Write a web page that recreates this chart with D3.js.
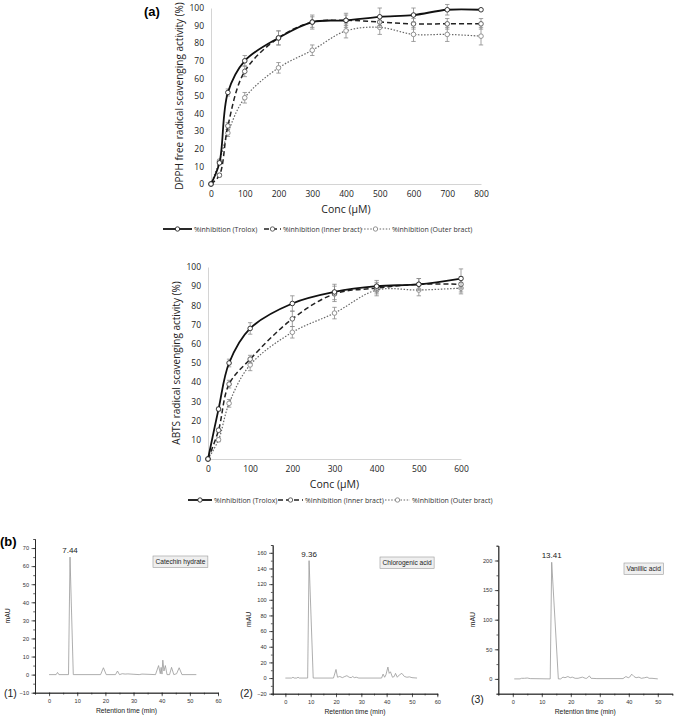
<!DOCTYPE html>
<html>
<head>
<meta charset="utf-8">
<script src="https://cdn.jsdelivr.net/npm/d3@7/dist/d3.min.js"></script>
<style>
  body { margin: 0; background: #fff; }
  svg { display: block; }
</style>
</head>
<body>
<svg id="fig" width="675" height="717"></svg>
<script>
// ---- DPPH (panel a, top) ----
var dpphConc = [0, 25, 50, 100, 200, 300, 400, 500, 600, 700, 800];
var dpphTrolox = [0, 12, 52, 70, 83, 92, 93, 95, 96, 99, 99];
var dpphTroloxErr = [0, 1, 2, 3, 4, 4, 4, 5, 4, 3, 0];
var dpphInner = [0, 5, 33, 64, 83, 92, 93, 92, 91, 91, 91];
var dpphInnerErr = [0, 1, 2, 3, 4, 3, 3, 3, 3, 3, 3];
var dpphOuter = [0, 13, 29, 49, 66, 76, 87, 89, 85, 85, 84];
var dpphOuterErr = [0, 1, 2, 3, 3, 3, 4, 4, 4, 4, 5];
var dpphTicksX = [0, 100, 200, 300, 400, 500, 600, 700, 800];

// ---- ABTS (panel a, bottom) ----
var abtsConc = [0, 25, 50, 100, 200, 300, 400, 500, 600];
var abtsTrolox = [0, 26, 50, 68, 81, 87, 90, 91, 94];
var abtsTroloxErr = [0, 1, 2, 3, 4, 4, 3, 3, 5];
var abtsInner = [0, 15, 39, 52, 73, 86, 89, 91, 91];
var abtsInnerErr = [0, 1, 2, 2, 4, 4, 3, 3, 4];
var abtsOuter = [0, 10, 29, 49, 66, 76, 88, 88, 89];
var abtsOuterErr = [0, 1, 2, 3, 3, 3, 3, 3, 3];
var abtsTicksX = [0, 100, 200, 300, 400, 500, 600];

var pctTicks = [0, 10, 20, 30, 40, 50, 60, 70, 80, 90, 100];

// ---- HPLC chromatograms (panel b) ----
var chrom1Time = [0, 2.5, 3, 3.5, 6.9, 7.44, 8.6, 18.3, 19.3, 20.3, 23.6, 24.3, 25, 26, 27, 28, 32, 33, 37.8, 38.9, 39.5, 39.8, 40.1, 40.4, 40.8, 41.3, 41.9, 42.8, 43.5, 44.3, 45.3, 46.2, 47.2, 52.3];
var chrom1mAU = [0, 0, 1.2, 0, 0, 65, 0, 0, 3.8, 0, 0, 2, 0, 0.5, 0.3, 0.4, 0, 0.3, 0, 5, 0.5, 4, 0.3, 8, 2, 5, 0, 0, 4, 0, 0.5, 3.8, 0, 0];
var chrom2Time = [0, 2.5, 3, 3.5, 4.5, 5, 5.5, 8.8, 9.36, 11, 19, 20, 20.6, 21.5, 22.5, 23.5, 24.3, 25.2, 26, 26.6, 27.2, 28, 29, 38, 38.6, 39.2, 39.7, 40.5, 41, 41.5, 42.3, 43, 43.5, 44.2, 45, 46, 47, 48, 49, 50, 52];
var chrom2mAU = [0, 0, 1, 0, 0, 1, 0, 0, 150, 0, 0, 11, 1, 2, 0.5, 2, 3, 1, 0.5, 2, 0.5, 1, 0, 0, 5, 1, 4, 14, 6, 8, 1, 2, 6, 1, 4, 6, 2, 1, 1.5, 0.5, 0];
var chrom3Time = [0.5, 2.5, 3, 4, 5, 6, 12.9, 13.41, 15.7, 16.5, 17.3, 18, 19, 19.8, 20.5, 21.5, 22.5, 24, 25, 25.5, 26.4, 27, 29, 38, 39, 39.8, 40.3, 41, 41.8, 42.5, 43.5, 44.3, 45.5, 46.3, 47, 48, 50];
var chrom3mAU = [0, 0, 1, 1, 1.5, 0.5, 0, 197, 0, 0, 3, 2, 4, 2, 3, 1, 1, 3, 1, 1, 5, 1, 0.5, 0.5, 4, 2, 3, 8, 4, 2, 3, 1, 2, 3, 1, 1, 0];

var legendDPPH = ["%inhibition (Trolox)", "%inhibition (Inner bract)", "%inhibition (Outer bract)"];
var legendABTS = ["%Inhibition (Trolox)", "%Inhibition (Inner bract)", "%Inhibition (Outer bract)"];

var Fig = (function() {

  var svg = d3.select("#fig");
  var font = "'Open Sans', Lato, sans-serif";
  var arial = "'Liberation Sans', Arial, sans-serif";

  // stroke styles for trolox / inner / outer
  var styles = [
    { stroke: "#111", width: 1.8, dash: null, mark: "#222" },
    { stroke: "#222", width: 1.5, dash: "5,3", mark: "#555" },
    { stroke: "#666", width: 1.2, dash: "1.5,1.6", mark: "#888" }
  ];

  var lineChart = function(o) {
    var x = d3.scaleLinear().domain(o.xDomain).range(o.xRange);
    var y = d3.scaleLinear().domain([0, 100]).range(o.yRange);
    var g = svg.append("g");

    g.append("g")
      .attr("transform", "translate(0," + o.yRange[0] + ")")
      .call(d3.axisBottom(x).tickValues(o.xTicks).tickSize(0).tickPadding(7))
      .call(function(a) {
        a.select(".domain").attr("stroke", "#d4d4d4");
        a.selectAll("text").attr("font-family", font).attr("font-size", 8.5).attr("fill", "#222");
      });

    g.append("g")
      .attr("transform", "translate(" + o.xRange[0] + ",0)")
      .call(d3.axisLeft(y).tickValues(pctTicks).tickSize(0).tickPadding(7))
      .call(function(a) {
        a.select(".domain").attr("stroke", "#d4d4d4");
        a.selectAll("text").attr("font-family", font).attr("font-size", 8.5).attr("fill", "#222");
      });

    g.append("text")
      .attr("x", (o.xRange[0] + o.xRange[1]) / 2)
      .attr("y", o.yRange[0] + 29)
      .attr("text-anchor", "middle")
      .attr("font-family", font).attr("font-size", 10.5).attr("fill", "#222")
      .text("Conc (\u00b5M)");

    g.append("text")
      .attr("transform", "translate(" + o.yTitleX + "," + ((o.yRange[0] + o.yRange[1]) / 2) + ") rotate(-90)")
      .attr("text-anchor", "middle")
      .attr("font-family", font).attr("font-size", 10).attr("fill", "#222")
      .text(o.yTitle);

    var line = d3.line()
      .x(function(d) { return x(d[0]); })
      .y(function(d) { return y(d[1]); })
      .curve(d3.curveCatmullRom.alpha(0.5));

    // draw back to front: outer, inner, trolox
    [2, 1, 0].forEach(function(k) {
      var s = o.series[k];
      var st = styles[k];
      var pts = o.conc.map(function(c, i) { return [c, s.v[i], s.e[i]]; });

      var eb = g.append("g").attr("stroke", "#8a8a8a").attr("stroke-width", 0.8);
      eb.selectAll("line.v").data(pts.filter(function(d) { return d[2] > 0; }))
        .enter().append("line")
        .attr("x1", function(d) { return x(d[0]); })
        .attr("x2", function(d) { return x(d[0]); })
        .attr("y1", function(d) { return y(d[1] - d[2]); })
        .attr("y2", function(d) { return y(d[1] + d[2]); });
      [-1, 1].forEach(function(sg) {
        eb.selectAll("line.c" + sg).data(pts.filter(function(d) { return d[2] > 0; }))
          .enter().append("line")
          .attr("x1", function(d) { return x(d[0]) - 2.2; })
          .attr("x2", function(d) { return x(d[0]) + 2.2; })
          .attr("y1", function(d) { return y(d[1] + sg * d[2]); })
          .attr("y2", function(d) { return y(d[1] + sg * d[2]); });
      });

      g.append("path")
        .datum(pts)
        .attr("d", line)
        .attr("fill", "none")
        .attr("stroke", st.stroke)
        .attr("stroke-width", st.width)
        .attr("stroke-dasharray", st.dash);

      g.selectAll(null).data(pts).enter().append("circle")
        .attr("cx", function(d) { return x(d[0]); })
        .attr("cy", function(d) { return y(d[1]); })
        .attr("r", 2.3)
        .attr("fill", "#fff")
        .attr("stroke", st.mark)
        .attr("stroke-width", 0.9);
    });

    // legend
    var lg = g.append("g");
    o.legend.forEach(function(lab, k) {
      var st = styles[k];
      var it = o.legendPos[k];
      lg.append("line")
        .attr("x1", it[0]).attr("x2", it[1])
        .attr("y1", o.legendY).attr("y2", o.legendY)
        .attr("stroke", st.stroke).attr("stroke-width", st.width)
        .attr("stroke-dasharray", st.dash);
      lg.append("circle")
        .attr("cx", (it[0] + it[1]) / 2).attr("cy", o.legendY).attr("r", 2.2)
        .attr("fill", "#fff").attr("stroke", st.mark).attr("stroke-width", 0.9);
      lg.append("text")
        .attr("x", it[1] + 2).attr("y", o.legendY + 2.5)
        .attr("font-family", font).attr("font-size", 7).attr("fill", "#333")
        .text(lab);
    });
  };

  var chromatogram = function(o) {
    var x = d3.scaleLinear().domain(o.xDomain).range(o.xRange);
    var y = d3.scaleLinear().domain(o.yDomain).range(o.yRange);
    var g = svg.append("g");

    var styleAxis = function(a) {
      a.select(".domain").attr("stroke", "#222").attr("stroke-width", 0.8);
      a.selectAll(".tick line").attr("stroke", "#222").attr("stroke-width", 0.7);
      a.selectAll("text").attr("font-family", arial).attr("font-size", 5.6).attr("fill", "#333");
    };

    // minor ticks
    g.append("g")
      .attr("transform", "translate(0," + o.yRange[0] + ")")
      .call(d3.axisBottom(x).tickValues(o.xMinor).tickSize(1.8).tickFormat(""))
      .call(styleAxis);
    g.append("g")
      .attr("transform", "translate(" + o.xRange[0] + ",0)")
      .call(d3.axisLeft(y).tickValues(o.yMinor).tickSize(1.8).tickFormat(""))
      .call(styleAxis);

    g.append("g")
      .attr("transform", "translate(0," + o.yRange[0] + ")")
      .call(d3.axisBottom(x).tickValues(o.xTicks).tickSize(3.5).tickSizeOuter(0).tickPadding(2.5))
      .call(styleAxis);
    g.append("g")
      .attr("transform", "translate(" + o.xRange[0] + ",0)")
      .call(d3.axisLeft(y).tickValues(o.yTicks).tickSize(3.5).tickSizeOuter(0).tickPadding(2.5))
      .call(styleAxis);

    g.append("text")
      .attr("x", (o.xRange[0] + o.xRange[1]) / 2)
      .attr("y", o.yRange[0] + 20)
      .attr("text-anchor", "middle")
      .attr("font-family", arial).attr("font-size", 6.8).attr("fill", "#222")
      .text("Retention time (min)");

    g.append("text")
      .attr("transform", "translate(" + o.yTitleX + "," + ((o.yRange[0] + o.yRange[1]) / 2) + ") rotate(-90)")
      .attr("text-anchor", "middle")
      .attr("font-family", arial).attr("font-size", 6.8).attr("fill", "#222")
      .text("mAU");

    var line = d3.line()
      .x(function(d) { return x(d[0]); })
      .y(function(d) { return y(d[1]); });

    g.append("path")
      .datum(o.t.map(function(t, i) { return [t, o.v[i]]; }))
      .attr("d", line)
      .attr("fill", "none")
      .attr("stroke", "#999")
      .attr("stroke-width", 0.8);

    g.append("text")
      .attr("x", x(o.peak[0]))
      .attr("y", y(o.peak[1]) - 4)
      .attr("text-anchor", "middle")
      .attr("font-family", arial).attr("font-size", 8).attr("fill", "#222")
      .text(o.peakLabel);

    // compound name box
    var box = g.append("rect")
      .attr("x", o.boxX).attr("y", o.boxY).attr("height", 11.5)
      .attr("fill", "#efefef").attr("stroke", "#999").attr("stroke-width", 0.6);
    var tb = g.append("text")
      .attr("x", o.boxX + 2.5).attr("y", o.boxY + 8.3)
      .attr("font-family", arial).attr("font-size", 6.6).attr("fill", "#222")
      .text(o.name);
    box.attr("width", tb.node().getComputedTextLength() + 5);

    g.append("text")
      .attr("x", o.numX).attr("y", o.numY)
      .attr("font-family", arial).attr("font-size", 10.5).attr("fill", "#222")
      .text(o.num);
  };

  return { lineChart: lineChart, chromatogram: chromatogram, svg: svg, arial: arial };
})();

Fig.svg.append("text").attr("x", 144).attr("y", 16)
  .attr("font-family", Fig.arial).attr("font-weight", "bold").attr("font-size", 13)
  .text("(a)");
Fig.svg.append("text").attr("x", 0).attr("y", 546)
  .attr("font-family", Fig.arial).attr("font-weight", "bold").attr("font-size", 13)
  .text("(b)");

Fig.lineChart({
  conc: dpphConc, xDomain: [0, 800], xRange: [211, 481], yRange: [184, 8], xTicks: dpphTicksX,
  yTitle: "DPPH free radical scavenging activity (%)", yTitleX: 183,
  series: [
    { v: dpphTrolox, e: dpphTroloxErr },
    { v: dpphInner, e: dpphInnerErr },
    { v: dpphOuter, e: dpphOuterErr }
  ],
  legend: legendDPPH, legendY: 229,
  legendPos: [[163, 192], [264, 281], [361, 390]]
});

Fig.lineChart({
  conc: abtsConc, xDomain: [0, 600], xRange: [208, 461], yRange: [459, 267], xTicks: abtsTicksX,
  yTitle: "ABTS radical scavenging activity (%)", yTitleX: 180,
  series: [
    { v: abtsTrolox, e: abtsTroloxErr },
    { v: abtsInner, e: abtsInnerErr },
    { v: abtsOuter, e: abtsOuterErr }
  ],
  legend: legendABTS, legendY: 500,
  legendPos: [[188, 212], [278, 303], [385, 410]]
});

Fig.chromatogram({
  t: chrom1Time, v: chrom1mAU, xDomain: [-5, 60], xRange: [35, 218],
  yDomain: [-10, 75], yRange: [692.7, 539],
  xTicks: [0, 10, 20, 30, 40, 50, 60], xMinor: d3.range(-5, 61, 5),
  yTicks: [-10, 0, 10, 20, 30, 40, 50, 60, 70], yMinor: d3.range(-10, 75, 5),
  yTitleX: 10, peak: [7.44, 65], peakLabel: "7.44",
  name: "Catechin hydrate", boxX: 153, boxY: 556, num: "(1)", numX: 4, numY: 697
});

Fig.chromatogram({
  t: chrom2Time, v: chrom2mAU, xDomain: [-5, 60], xRange: [272.7, 437.3],
  yDomain: [-20, 170], yRange: [693.7, 545],
  xTicks: [0, 10, 20, 30, 40, 50, 60], xMinor: d3.range(-5, 61, 5),
  yTicks: [-20, 0, 20, 40, 60, 80, 100, 120, 140, 160], yMinor: d3.range(-20, 170, 10),
  yTitleX: 251, peak: [9.36, 150], peakLabel: "9.36",
  name: "Chlorogenic acid", boxX: 380, boxY: 557, num: "(2)", numX: 240, numY: 697
});

Fig.chromatogram({
  t: chrom3Time, v: chrom3mAU, xDomain: [-5, 55], xRange: [498.3, 672.3],
  yDomain: [-25, 225], yRange: [693.7, 545.7],
  xTicks: [0, 10, 20, 30, 40, 50], xMinor: d3.range(-5, 56, 5),
  yTicks: [0, 50, 100, 150, 200], yMinor: d3.range(-25, 226, 25),
  yTitleX: 475, peak: [13.41, 197], peakLabel: "13.41",
  name: "Vanillic acid", boxX: 624, boxY: 563, num: "(3)", numX: 471, numY: 703
});
</script>
</body>
</html>
